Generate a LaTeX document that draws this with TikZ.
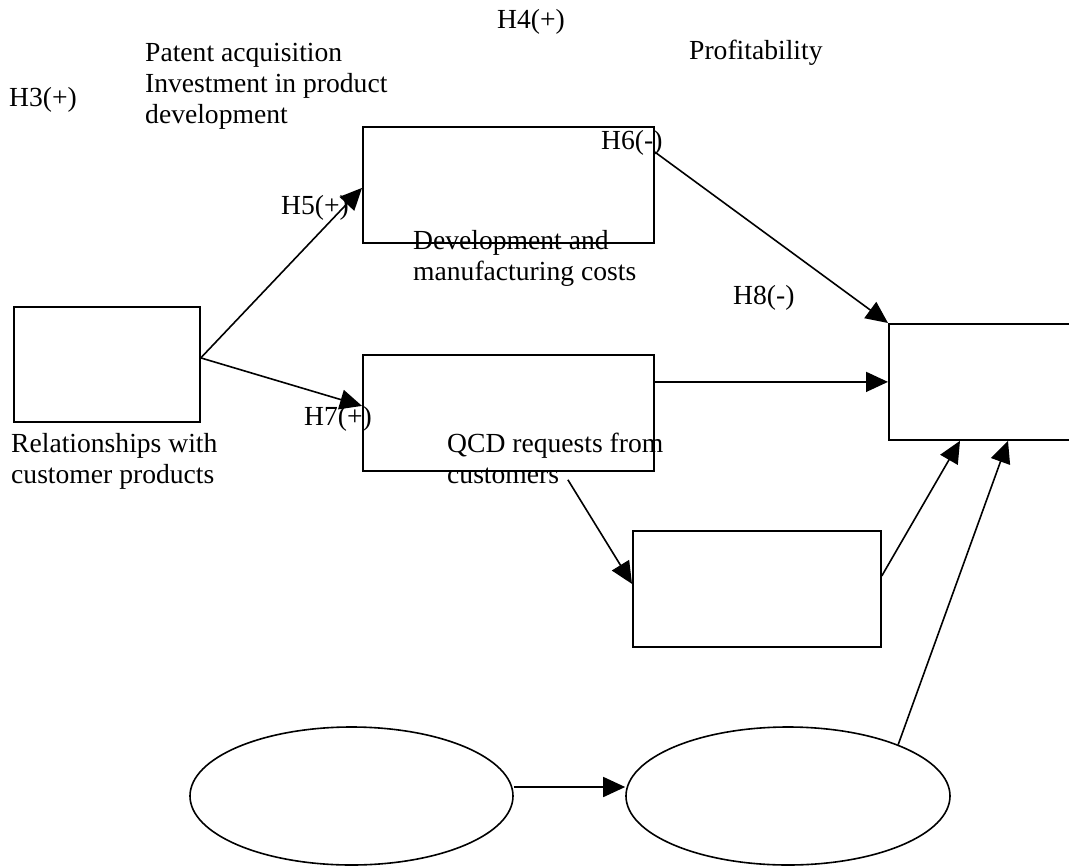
\documentclass[tikz,border=0pt]{standalone}
\usepackage{fontspec}
\setmainfont{Liberation Serif}
\usetikzlibrary{arrows.meta,shapes.geometric,calc}
\begin{document}
\begin{tikzpicture}[x=1pt,y=-1pt,
  box/.style={draw,line width=1.8pt,inner sep=0pt,anchor=north west},
  ell/.style={draw,ellipse,line width=1.6pt,inner sep=0pt},
  conn/.style={line width=1.6pt,-{Triangle[length=22pt,width=20pt]}},
  lbl/.style={inner sep=0pt,anchor=base west,font=\fontsize{27.6}{31}\selectfont,align=left}]
\useasboundingbox (0,0) rectangle (1069,868);
\clip (0,0) rectangle (1069,868);
% boxes
\node[box,minimum width=186pt,minimum height=115pt] (A) at (13,306) {};
\node[box,minimum width=291pt,minimum height=116pt] (B) at (362,126) {};
\node[box,minimum width=291pt,minimum height=116pt] (C) at (362,354) {};
\node[box,minimum width=200pt,minimum height=116pt] (D) at (888,323) {};
\node[box,minimum width=248pt,minimum height=116pt] (E) at (632,530) {};
\node[ell,minimum width=323pt,minimum height=138pt] (F) at (351.5,796) {};
\node[ell,minimum width=324pt,minimum height=138pt] (G) at (788,796) {};
% labels (base = baseline of the last line)
\node[lbl] (tH4) at (497,28) {H4(+)};
\node[lbl] (tProf) at (689,59) {Profitability};
\node[lbl] (tPat) at (145,123) {Patent acquisition\\Investment in product\\development};
\node[lbl] (tH3) at (9,106) {H3(+)};
\node[lbl] (tH5) at (281,214) {H5(+)};
\node[lbl] (tH6) at (601,149) {H6(-)};
\node[lbl] (tDev) at (413,280) {Development and\\manufacturing costs};
\node[lbl] (tH8) at (733,304) {H8(-)};
\node[lbl] (tH7) at (304,425) {H7(+)};
\node[lbl] (tQCD) at (447,483) {QCD requests from\\customers};
\node[lbl] (tRel) at (11,483) {Relationships with\\customer products};
% connectors
\coordinate (hub) at ([yshift=6.5pt]A.east);
\draw[conn] (hub) -- ([yshift=-3pt]B.west);
\draw[conn] (hub) -- ([yshift=7pt]C.west);
\draw[conn] ([yshift=-26pt]B.north east) -- (D.north west);
\draw[conn] (D.west -| C.east) -- (D.west);
\coordinate (cq) at ([xshift=59.5pt,yshift=-8pt]C.south);
\draw[conn] (cq) -- ([yshift=5pt]E.west);
\draw[conn] ([yshift=13pt]E.east) -- ([xshift=72pt]D.south west);
\draw[conn] (G.25) -- ([xshift=120pt]D.south west);
\draw[conn] ([yshift=9pt]F.east) -- ([yshift=9pt]G.west);
\end{tikzpicture}
\end{document}
